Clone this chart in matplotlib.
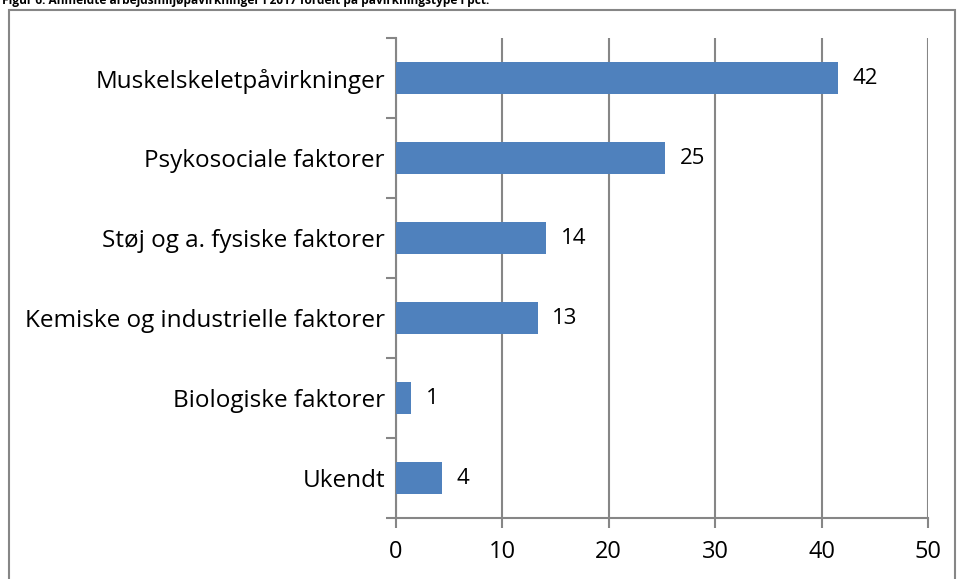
import matplotlib.pyplot as plt
from matplotlib.patches import Rectangle

# Data (bottom category first)
categories = ['Ukendt', 'Biologiske faktorer', 'Kemiske og industrielle faktorer',
              'Støj og a. fysiske faktorer', 'Psykosociale faktorer',
              'Muskelskeletpåvirkninger']
values = [4.3, 1.4, 13.3, 14.1, 25.3, 41.5]
labels = ['4', '1', '13', '14', '25', '42']
title = 'Figur 6: Anmeldte arbejdsmiljøpåvirkninger i 2017 fordelt på påvirkningstype i pct.'

plt.rcParams['font.family'] = ['Open Sans', 'DejaVu Sans']
grey = '#868686'

fig = plt.figure(figsize=(9.57, 5.79), dpi=100)
ax = fig.add_axes([396 / 957, 1 - 518 / 579, (928 - 396) / 957, (518 - 38) / 579])

pos = range(len(categories))
ax.barh(pos, values, height=0.4, color='#4F81BD', zorder=3)
for p, v, t in zip(pos, values, labels):
    ax.text(v + 1.4, p, t, va='center', ha='left', fontsize=16, color='black')

ax.set_xlim(0, 50)
ax.set_ylim(-0.5, len(categories) - 0.5)
ax.set_xticks(range(0, 51, 10))
ax.set_yticks(list(pos))
ax.set_yticklabels(categories)
ax.set_yticks([i - 0.5 for i in range(len(categories) + 1)], minor=True)
ax.tick_params(axis='y', which='major', length=0, pad=8, labelsize=17.5)
ax.tick_params(axis='y', which='minor', length=7, width=1.5, color=grey)
ax.tick_params(axis='x', length=7, width=1.5, color=grey, pad=9, labelsize=17)
ax.grid(axis='x', color=grey, linewidth=1.5, zorder=0)

for s in ['top', 'right']:
    ax.spines[s].set_visible(False)
for s in ['left', 'bottom']:
    ax.spines[s].set_color(grey)
    ax.spines[s].set_linewidth(1.5)

# outer chart frame and (cropped) figure caption
fig.patches.append(Rectangle((9 / 957, -0.1), (955 - 9) / 957, 1.1 - 10 / 579,
                             transform=fig.transFigure, fill=False,
                             edgecolor=grey, linewidth=1.5))
fig.text(2 / 957, 1 - 4 / 579, title, fontsize=8.6, fontweight='bold',
         ha='left', va='baseline')

fig.savefig('out.png', dpi=100)
